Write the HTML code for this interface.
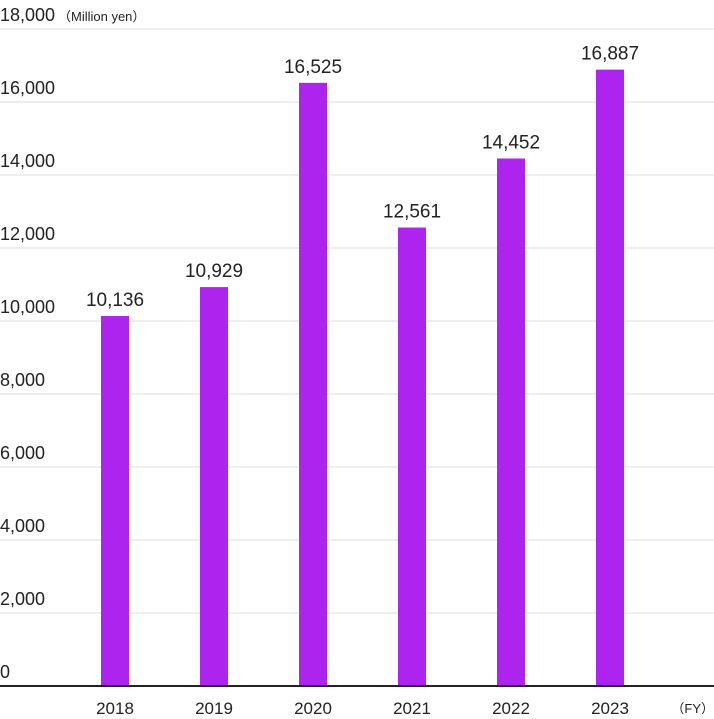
<!DOCTYPE html>
<html><head><meta charset="utf-8"><style>
body{margin:0;background:#fff;}
svg text{font-family:"Liberation Sans",sans-serif;fill:#222;}
</style></head><body>
<svg id="c" width="714" height="714"></svg>
<script>
const categories=["2018","2019","2020","2021","2022","2023"];
const values=[10136,10929,16525,12561,14452,16887];
const valueLabels=["10,136","10,929","16,525","12,561","14,452","16,887"];
const ticks=[0,2000,4000,6000,8000,10000,12000,14000,16000,18000];
const tickLabels=["0","2,000","4,000","6,000","8,000","10,000","12,000","14,000","16,000","18,000"];
const svg=document.getElementById('c');const NS='http://www.w3.org/2000/svg';
function y(v){return 686-v*(657/18000);}
function x(i){return 115+i*99;}
function mk(t,a,p){const e=document.createElementNS(NS,t);for(const k in a)e.setAttribute(k,a[k]);(p||svg).appendChild(e);return e;}
ticks.forEach((t,i)=>{
 if(t>0){const l=mk('line',{x1:0,x2:714,y1:y(t),y2:y(t),stroke:'#ddd','stroke-width':1});
 
 }
 const tx=mk('text',{x:0,y:y(t)-8,'font-size':18});tx.textContent=tickLabels[i];
 
 
});
const u=mk('text',{x:58,y:21,'font-size':13});u.textContent='（Million yen）';


values.forEach((v,i)=>{
 const r=mk('rect',{x:x(i)-14,y:y(v),width:28,height:686-y(v),fill:'#ad24ee'});
 
 
 const t=mk('text',{x:x(i),y:y(v)-10,'font-size':19,'text-anchor':'middle'});t.textContent=valueLabels[i];
 
 
 const c=mk('text',{x:x(i),y:714,'font-size':17,'text-anchor':'middle'});c.textContent=categories[i];
 
 
});
const b=mk('line',{x1:0,x2:714,y1:686,y2:686,stroke:'#222','stroke-width':2});


const fy=mk('text',{x:714,y:713,'font-size':13,'text-anchor':'end'});fy.textContent='（FY）';


</script>
</body></html>
